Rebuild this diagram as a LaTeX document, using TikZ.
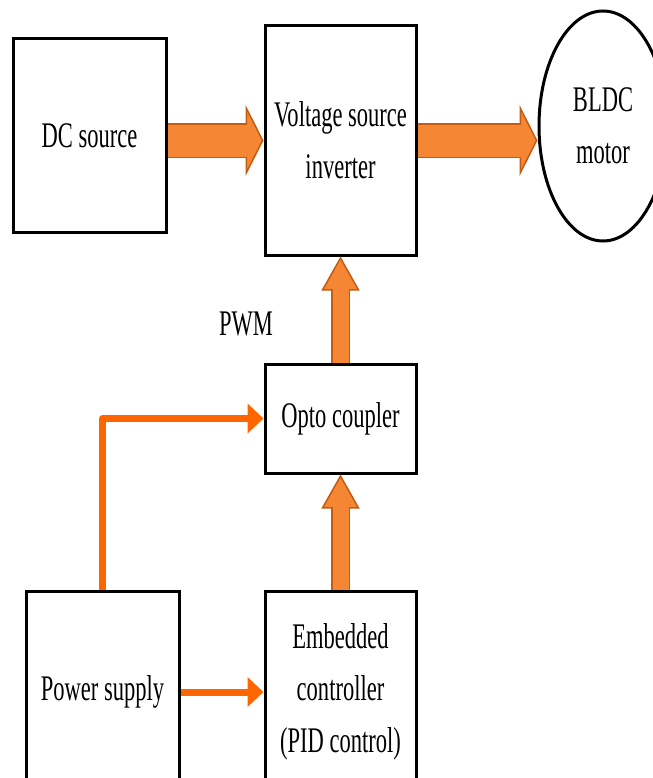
\documentclass[tikz,border=0pt]{standalone}
\usepackage{fontspec}
\setmainfont[FakeStretch=0.625]{Liberation Serif}
\usepackage{xcolor}
\usepackage{tikz}
\usetikzlibrary{arrows.meta,positioning,calc,shapes.geometric}
\definecolor{BDOrange}{HTML}{F58634}
\definecolor{BDEdge}{HTML}{C55A11}
\definecolor{BDLine}{HTML}{FF6600}
\definecolor{BDInk}{HTML}{000000}
\tikzset{
  bdbox/.style={draw=BDInk, line width=0.6mm, fill=white, align=center,
    inner sep=0pt, minimum width=30.2mm},
  bdmotor/.style={ellipse, draw=BDInk, line width=0.6mm, align=center,
    inner sep=0pt, minimum width=25.6mm, minimum height=46mm},
  bdfat/.style={draw=BDEdge, line width=0.3mm, double=BDOrange,
    double distance=6.4mm,
    -{Triangle[width=14.2mm, length=3.6mm, line width=0.3mm,
      color=BDEdge, fill=BDOrange]},
    postaction={draw=BDOrange, line width=6.4mm, -, shorten >=3.1mm}},
  bdfatup/.style={draw=BDEdge, line width=0.3mm, double=BDOrange,
    double distance=3.2mm,
    -{Triangle[width=7.6mm, length=6.8mm, line width=0.3mm,
      color=BDEdge, fill=BDOrange]},
    postaction={draw=BDOrange, line width=3.2mm, -, shorten >=6.2mm}},
  bdthin/.style={draw=BDLine, line width=1.4mm, line join=round,
    -{Triangle[width=5.8mm, length=3.2mm]}},
  bdlabel/.style={inner sep=0pt}
}
\begin{document}
\begin{tikzpicture}[font=\fontsize{20.5}{29.6}\selectfont]
  \path[use as bounding box, clip] (0,0) rectangle (130.6mm,-155.6mm);

  \node[bdbox, minimum width=30.6mm, minimum height=38.6mm] (dc)
    at (17.9mm,-27.1mm) {DC source};
  \node[bdbox, minimum height=45.8mm, right=19.2mm of dc, yshift=-1mm] (vsi)
    {Voltage source\\inverter};
  \node[bdmotor, right=24mm of vsi, yshift=2.9mm] (motor)
    {BLDC\\motor};

  \node[bdbox, minimum height=21.8mm, below=21.2mm of vsi] (opto)
    {Opto coupler};
  \node[bdbox, minimum height=40.4mm, below=23mm of opto] (emb)
    {Embedded\\controller\\(PID control)};
  \node[bdbox, minimum width=30.6mm, minimum height=40.4mm, left=16.6mm of emb] (pwr)
    {Power supply};

  \node[bdlabel] (pwm) at ($(vsi.south)+(-18.9mm,-13.4mm)$) {PWM};

  \draw[bdfat] (dc.east |- vsi.west) -- (vsi.west);
  \draw[bdfat] (vsi.east) -- (vsi.east -| motor.west);
  \draw[bdfatup] (opto.north) -- (vsi.south);
  \draw[bdfatup] (emb.north) -- (opto.south);
  \draw[bdthin] (pwr.north) |- (opto.west);
  \draw[bdthin] (pwr) -- (emb);
\end{tikzpicture}
\end{document}
